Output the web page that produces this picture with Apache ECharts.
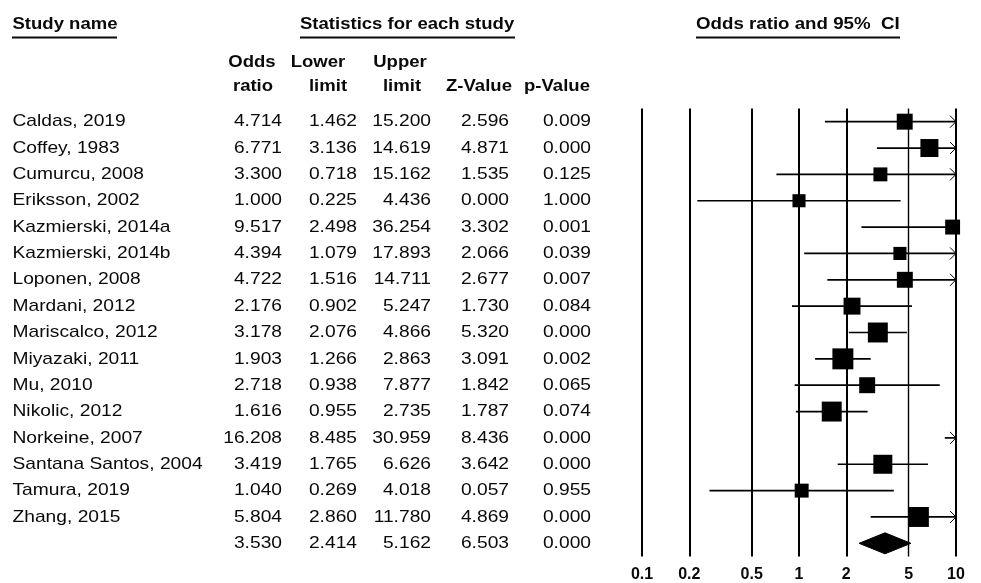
<!DOCTYPE html>
<html>
<head>
<meta charset="utf-8">
<script src="https://cdn.jsdelivr.net/npm/echarts@6/dist/echarts.min.js"></script>
<style>
  html, body { margin: 0; padding: 0; background: #fff; }
  #chart { width: 981px; height: 583px; }
</style>
</head>
<body>
<div id="chart"></div>
<script>
// ---- study data ----
const studyNames = [
  'Caldas, 2019', 'Coffey, 1983', 'Cumurcu, 2008', 'Eriksson, 2002',
  'Kazmierski, 2014a', 'Kazmierski, 2014b', 'Loponen, 2008', 'Mardani, 2012',
  'Mariscalco, 2012', 'Miyazaki, 2011', 'Mu, 2010', 'Nikolic, 2012',
  'Norkeine, 2007', 'Santana Santos, 2004', 'Tamura, 2019', 'Zhang, 2015'
];
const oddsRatio  = [4.714, 6.771, 3.300, 1.000, 9.517, 4.394, 4.722, 2.176, 3.178, 1.903, 2.718, 1.616, 16.208, 3.419, 1.040, 5.804];
const lowerLimit = [1.462, 3.136, 0.718, 0.225, 2.498, 1.079, 1.516, 0.902, 2.076, 1.266, 0.938, 0.955, 8.485, 1.765, 0.269, 2.860];
const upperLimit = [15.200, 14.619, 15.162, 4.436, 36.254, 17.893, 14.711, 5.247, 4.866, 2.863, 7.877, 2.735, 30.959, 6.626, 4.018, 11.780];
const zValue     = [2.596, 4.871, 1.535, 0.000, 3.302, 2.066, 2.677, 1.730, 5.320, 3.091, 1.842, 1.787, 8.436, 3.642, 0.057, 4.869];
const pValue     = [0.009, 0.000, 0.125, 1.000, 0.001, 0.039, 0.007, 0.084, 0.000, 0.002, 0.065, 0.074, 0.000, 0.000, 0.955, 0.000];
// relative weight (%) of each study, sets the marker area
const relWeight  = [5.5, 7.0, 4.2, 3.7, 4.8, 3.7, 5.5, 6.2, 8.6, 9.5, 5.5, 8.6, 7.0, 7.8, 4.2, 8.6];

// pooled estimate
const pooledOR = 3.530, pooledLower = 2.414, pooledUpper = 5.162, pooledZ = 6.503, pooledP = 0.000;

// x axis reference lines and their labels
const tickValues = [0.1, 0.2, 0.5, 1, 2, 5, 10];
const tickLabels = ['0.1', '0.2', '0.5', '1', '2', '5', '10'];

// ---- layout ----
const AX_MIN = 0.1, AX_MAX = 10;
const FONT = "'Liberation Sans', Arial, Helvetica, sans-serif";
const nRows = studyNames.length + 1;            // studies + pooled row
const rowTop = 121.7, rowStep = 26.35;           // table row centres (px)
const rowOf = i => nRows - 1 - i;                // row index -> y value (top row highest)
const rowPx = i => rowTop + rowStep * i;

const colRight = [282, 357, 431, 509, 591];

const graphics = [];
function addText(txt, x, y, opts) {
  opts = opts || {};
  graphics.push({
    type: 'text', x: x, y: y,
    scaleX: opts.scaleX || (opts.bold ? 1.09 : 1.13),
    style: {
      text: txt, x: 0, y: 0,
      align: opts.align || 'left', verticalAlign: 'middle',
      font: (opts.bold ? 'bold ' : '') + (opts.size || 17) + 'px ' + FONT,
      fill: opts.color || '#0a0a0a'
    },
    silent: true
  });
}
function addRule(x1, x2, y) {
  graphics.push({
    type: 'line', shape: { x1: x1, y1: y, x2: x2, y2: y },
    style: { stroke: '#0a0a0a', lineWidth: 2 }, silent: true
  });
}

// group headings
addText('Study name', 12.5, 24, { bold: true });
addRule(12, 117, 37.5);
addText('Statistics for each study', 300, 24, { bold: true });
addRule(300, 515, 37.5);
addText('Odds ratio and 95%  CI', 696, 24, { bold: true, scaleX: 1.1 });
addRule(696, 900, 37.5);

// column headings
addText('Odds', 252, 62.5, { bold: true, align: 'center' });
addText('ratio', 253, 86, { bold: true, align: 'center' });
addText('Lower', 318, 62.5, { bold: true, align: 'center' });
addText('limit', 328, 86, { bold: true, align: 'center' });
addText('Upper', 400, 62.5, { bold: true, align: 'center' });
addText('limit', 402, 86, { bold: true, align: 'center' });
addText('Z-Value', 479, 86, { bold: true, align: 'center' });
addText('p-Value', 557, 86, { bold: true, align: 'center' });

// table rows
const fmt = v => v.toFixed(3);
studyNames.forEach((name, i) => {
  const y = rowPx(i);
  addText(name, 12.5, y);
  [oddsRatio[i], lowerLimit[i], upperLimit[i], zValue[i], pValue[i]].forEach((v, c) => {
    addText(fmt(v), colRight[c], y, { align: 'right' });
  });
});
[pooledOR, pooledLower, pooledUpper, pooledZ, pooledP].forEach((v, c) => {
  addText(fmt(v), colRight[c], rowPx(nRows - 1), { align: 'right' });
});

// ---- series data ----
const ciData = studyNames.map((_, i) => [lowerLimit[i], upperLimit[i], rowOf(i)]);
const pointData = studyNames.map((_, i) => ({ value: [oddsRatio[i], rowOf(i)], w: relWeight[i] }));
const pooledData = [[pooledLower, pooledOR, pooledUpper, rowOf(nRows - 1)]];

const chart = echarts.init(document.getElementById('chart'), null, { renderer: 'canvas' });

chart.setOption({
  animation: false,
  backgroundColor: '#fff',
  grid: { left: 642, right: 25, top: 108.5, bottom: 26.5, containLabel: false },
  xAxis: {
    type: 'log', logBase: 10, min: AX_MIN, max: AX_MAX,
    axisLine: { show: false },
    axisTick: { show: false },
    axisLabel: {
      show: true,
      customValues: tickValues,
      margin: 10,
      color: '#0a0a0a', fontWeight: 'bold', fontSize: 16, fontFamily: 'Liberation Sans',
      formatter: function (v) {
        const k = tickValues.findIndex(t => Math.abs(t - v) < 1e-9);
        return k >= 0 ? tickLabels[k] : '';
      }
    },
    splitLine: { show: false }
  },
  yAxis: {
    type: 'value', min: -0.5, max: nRows - 0.5,
    show: false, splitLine: { show: false }
  },
  graphic: graphics,
  series: [
    {
      // confidence intervals, truncated at the axis with an arrow
      type: 'custom',
      data: ciData,
      encode: { x: [0, 1], y: 2 },
      clip: false,
      z: 3,
      renderItem: function (params, api) {
        const lo = api.value(0), hi = api.value(1), row = api.value(2);
        const p1 = api.coord([Math.max(lo, AX_MIN), row]);
        const p2 = api.coord([Math.min(hi, AX_MAX), row]);
        const children = [{
          type: 'line',
          shape: { x1: p1[0], y1: p1[1], x2: p2[0], y2: p2[1] },
          style: { stroke: '#000', lineWidth: 1.7 }
        }];
        if (hi > AX_MAX) {
          children.push({
            type: 'polyline',
            shape: { points: [[p2[0] - 6, p2[1] - 6], [p2[0], p2[1]], [p2[0] - 6, p2[1] + 6]] },
            style: { stroke: '#000', lineWidth: 1, fill: null }
          });
        }
        if (lo < AX_MIN) {
          children.push({
            type: 'polyline',
            shape: { points: [[p1[0] + 6, p1[1] - 6], [p1[0], p1[1]], [p1[0] + 6, p1[1] + 6]] },
            style: { stroke: '#000', lineWidth: 1, fill: null }
          });
        }
        return { type: 'group', children: children };
      }
    },
    {
      // study point estimates, sized by weight
      type: 'scatter',
      data: pointData,
      symbol: 'rect',
      symbolSize: function (val, p) { return 6.8 * Math.sqrt(p.data.w); },
      itemStyle: { color: '#000', opacity: 1 },
      emphasis: { disabled: true },
      clip: true,
      z: 4,
      markLine: {
        silent: true,
        symbol: ['none', 'none'],
        animation: false,
        lineStyle: { color: '#000', width: 2, type: 'solid' },
        label: { show: false },
        emphasis: { disabled: true },
        data: tickValues.map(v => ({ xAxis: v, lineStyle: { width: v === 5 ? 1.4 : 2 } }))
      }
    },
    {
      // pooled estimate diamond
      type: 'custom',
      data: pooledData,
      encode: { x: [0, 1, 2], y: 3 },
      clip: false,
      z: 4,
      renderItem: function (params, api) {
        const row = api.value(3);
        const l = api.coord([api.value(0), row]);
        const m = api.coord([api.value(1), row]);
        const r = api.coord([api.value(2), row]);
        const h = 10.5;
        return {
          type: 'polygon',
          shape: { points: [[l[0], l[1]], [m[0], m[1] - h], [r[0], r[1]], [m[0], m[1] + h]] },
          style: { fill: '#000', stroke: '#000', lineWidth: 1 }
        };
      }
    }
  ]
});
</script>
</body>
</html>
